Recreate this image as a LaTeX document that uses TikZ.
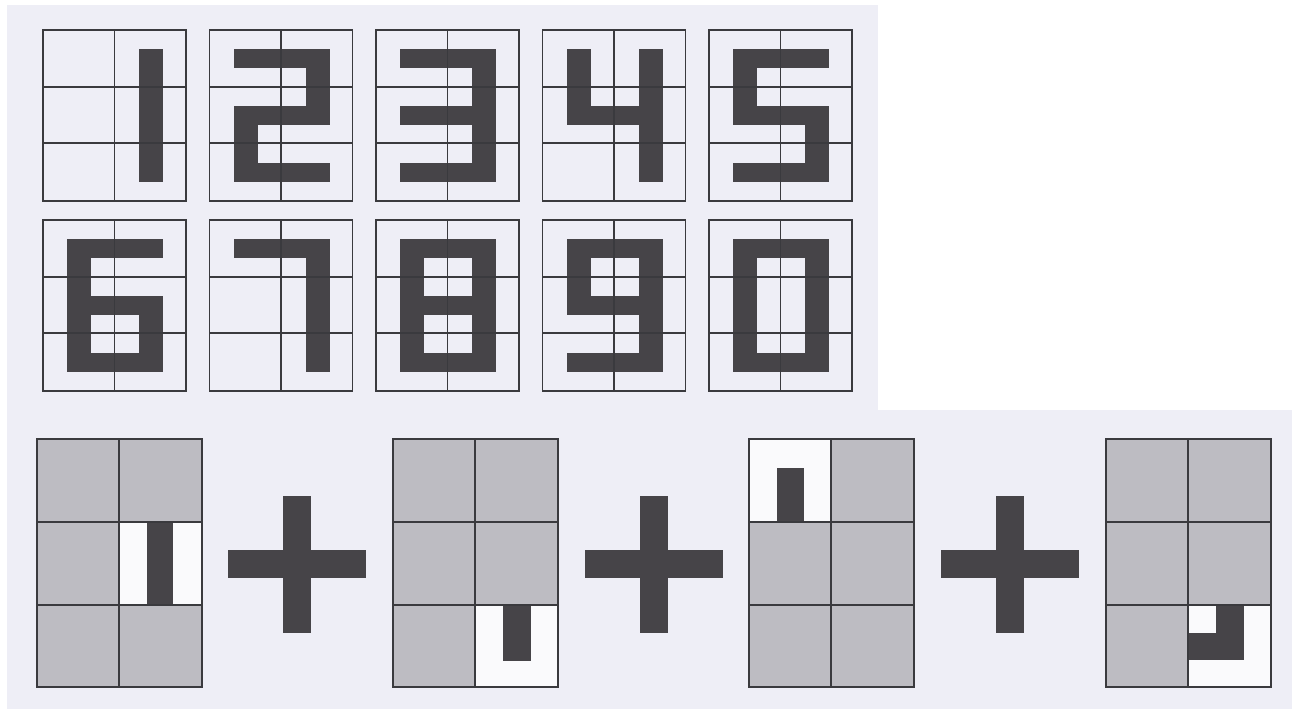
\documentclass[tikz,border=0pt]{standalone}
\definecolor{bgc}{RGB}{238,238,246}
\definecolor{ink}{RGB}{70,68,72}
\definecolor{gridc}{RGB}{58,58,62}
\definecolor{cellgray}{RGB}{189,188,194}
\definecolor{cellwhite}{RGB}{250,250,252}
\tikzset{
  glyph/.style={fill=ink},
  gridline/.style={draw=gridc, line width=0.7pt},
  panel/.style={fill=bgc},
  graycell/.style={fill=cellgray},
  whitecell/.style={fill=cellwhite},
}
\newcommand\drawglyph[3]{%
  \foreach \a/\b/\c/\d in {#3} {\fill[glyph] (#1+\a,#2+\b) rectangle (#1+\c,#2+\d);}}
\newcommand\plussign[1]{%
  \fill[glyph] (#1,550) rectangle (#1+138,578);
  \fill[glyph] (#1+55,496) rectangle (#1+83,633);}
\begin{document}
\begin{tikzpicture}[x=0.5pt,y=-0.5pt]
\useasboundingbox (0,0) rectangle (1297,713);
\fill[white] (0,0) rectangle (1297,713);
% panels
\fill[panel] (7,5) rectangle (878,411);
\fill[panel] (7,410) rectangle (1292,709);
% top grids
\foreach \i in {0,...,4} {
  \foreach \yy in {30,220} {
    \pgfmathsetmacro\xx{43+166.5*\i}
    \draw[gridline] (\xx,\yy) rectangle (\xx+143,\yy+171);
  }
}
% digits row 1
\drawglyph{67}{49}{72/0/96/133}
\drawglyph{233.5}{49}{0/0/96/19,72/0/96/76,0/57/96/76,0/57/24/133,0/114/96/133}
\drawglyph{400}{49}{0/0/96/19,0/57/96/76,0/114/96/133,72/0/96/133}
\drawglyph{566.5}{49}{0/0/24/76,0/57/96/76,72/0/96/133}
\drawglyph{733}{49}{0/0/96/19,0/0/24/76,0/57/96/76,72/57/96/133,0/114/96/133}
% digits row 2
\drawglyph{67}{239}{0/0/96/19,0/0/24/133,0/57/96/76,72/57/96/133,0/114/96/133}
\drawglyph{233.5}{239}{0/0/96/19,72/0/96/133}
\drawglyph{400}{239}{0/0/24/133,72/0/96/133,0/0/96/19,0/57/96/76,0/114/96/133}
\drawglyph{566.5}{239}{0/0/96/19,0/0/24/76,0/57/96/76,72/0/96/133,0/114/96/133}
\drawglyph{733}{239}{0/0/24/133,72/0/96/133,0/0/96/19,0/114/96/133}
% top grid inner lines
\foreach \i in {0,...,4} {
  \foreach \yy in {30,220} {
    \pgfmathsetmacro\xx{43+166.5*\i}
    \draw[gridline] (\xx+71.5,\yy) -- (\xx+71.5,\yy+171);
    \draw[gridline] (\xx,\yy+57) -- (\xx+143,\yy+57);
    \draw[gridline] (\xx,\yy+113) -- (\xx+143,\yy+113);
  }
}
% bottom grids
\foreach \xx in {37,393,749,1106} {
  \fill[graycell] (\xx,439) rectangle (\xx+165,687);
}
\fill[whitecell] (119,523) rectangle (202,605);
\fill[glyph] (147,523) rectangle (173,605);
\fill[whitecell] (475,605) rectangle (558,687);
\fill[glyph] (503,605) rectangle (531,661);
\fill[whitecell] (749,439) rectangle (832,522);
\fill[glyph] (777,468) rectangle (804,522);
\fill[whitecell] (1188,605) rectangle (1271,687);
\fill[glyph] (1216,605) rectangle (1244,660);
\fill[glyph] (1188,633) rectangle (1244,660);
\foreach \xx in {37,393,749,1106} {
  \draw[gridline] (\xx,439) rectangle (\xx+165,687);
  \draw[gridline] (\xx+82,439) -- (\xx+82,687);
  \draw[gridline] (\xx,522) -- (\xx+165,522);
  \draw[gridline] (\xx,605) -- (\xx+165,605);
}
% plus signs
\plussign{228}
\plussign{584.5}
\plussign{941}
\end{tikzpicture}
\end{document}
